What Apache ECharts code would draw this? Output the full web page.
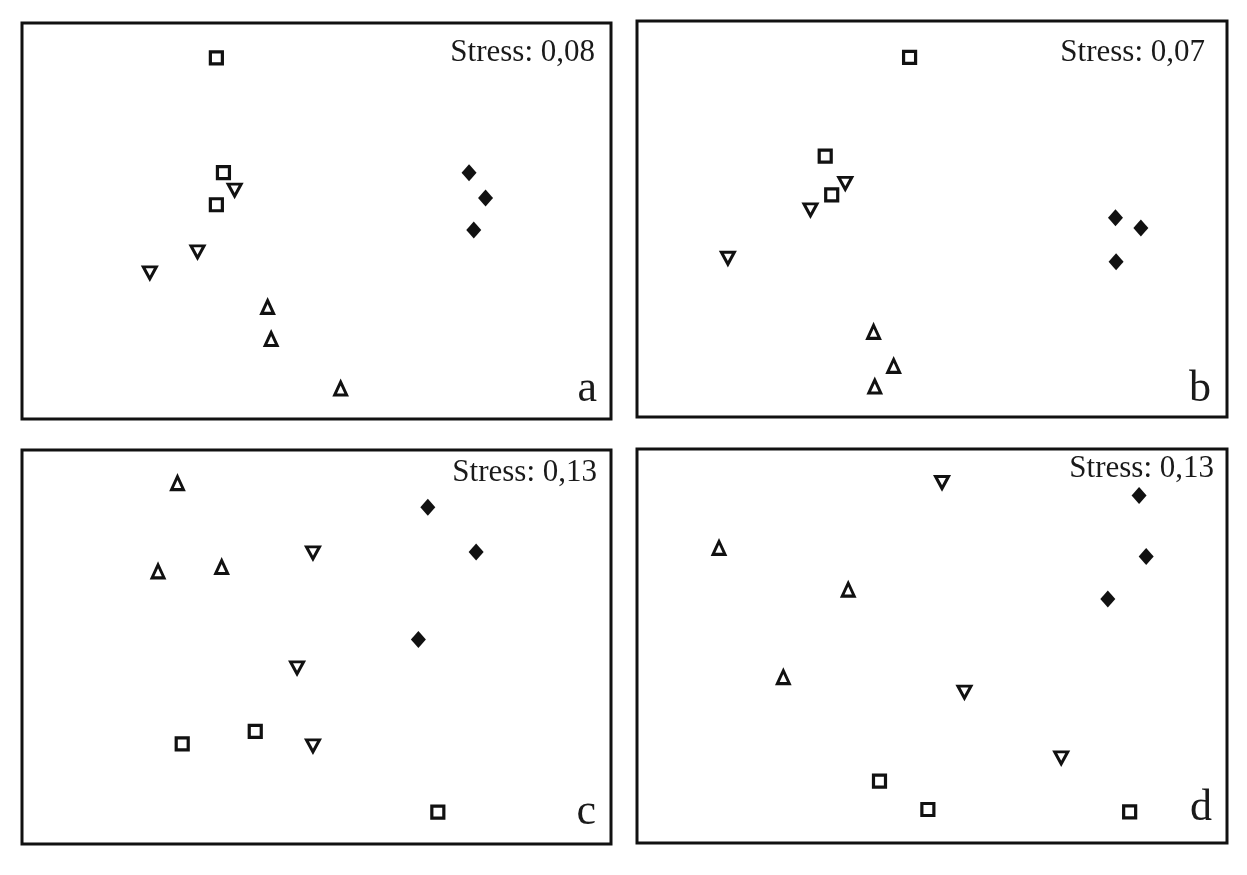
<!DOCTYPE html>
<html>
<head>
<meta charset="utf-8">
<script src="https://cdn.jsdelivr.net/npm/echarts@6/dist/echarts.min.js"></script>
<style>
html,body{margin:0;padding:0;background:#fff;}
#chart{width:1247px;height:875px;}
</style>
</head>
<body>
<div id="chart"></div>
<script>
// Ordination scores (arbitrary 0-100 units)
const panelLetters = ['a', 'b', 'c', 'd'];
const stressLabels = ['Stress: 0,08', 'Stress: 0,07', 'Stress: 0,13', 'Stress: 0,13'];

const aSquares   = [[33.0, 91.2], [34.2, 62.2], [33.0, 54.1]];
const aDownTri   = [[36.1, 57.8], [29.8, 42.2], [21.7, 36.9]];
const aUpTri     = [[41.7, 28.3], [42.3, 20.2], [54.1, 7.7]];
const aDiamonds  = [[75.9, 62.2], [78.7, 55.8], [76.7, 47.7]];

const bSquares   = [[46.2, 90.8], [31.9, 65.9], [33.0, 56.1]];
const bDownTri   = [[35.3, 59.0], [29.4, 52.3], [15.4, 40.1]];
const bUpTri     = [[40.1, 21.5], [43.5, 12.9], [40.3, 7.7]];
const bDiamonds  = [[81.1, 50.3], [85.4, 47.7], [81.2, 39.2]];

const cSquares   = [[27.2, 25.4], [39.6, 28.6], [70.6, 8.1]];
const cDownTri   = [[49.4, 73.9], [46.7, 44.7], [49.4, 24.9]];
const cUpTri     = [[26.4, 91.6], [23.1, 69.2], [33.9, 70.3]];
const cDiamonds  = [[68.9, 85.5], [77.1, 74.1], [67.3, 51.9]];

const dSquares   = [[41.1, 15.7], [49.3, 8.5], [83.5, 7.9]];
const dDownTri   = [[51.7, 91.5], [55.5, 38.3], [71.9, 21.6]];
const dUpTri     = [[13.9, 74.9], [35.8, 64.3], [24.8, 42.1]];
const dDiamonds  = [[85.1, 88.2], [86.3, 72.7], [79.8, 61.9]];

const panels = [
  {squares: aSquares, down: aDownTri, up: aUpTri, diamonds: aDiamonds},
  {squares: bSquares, down: bDownTri, up: bUpTri, diamonds: bDiamonds},
  {squares: cSquares, down: cDownTri, up: cUpTri, diamonds: cDiamonds},
  {squares: dSquares, down: dDownTri, up: dUpTri, diamonds: dDiamonds}
];

// layout
const grids = [
  {left: 22, top: 23, width: 589, height: 396},
  {left: 637, top: 21, width: 590, height: 396},
  {left: 22, top: 450, width: 589, height: 394},
  {left: 637, top: 449, width: 590, height: 394}
];
const stressPos = [[595, 53], [1205, 53], [597, 473], [1214, 469]];
const letterPos = [[597, 389], [1211, 389], [596, 812], [1212, 808]];

const ink = '#111';

const option = {
  animation: false,
  backgroundColor: '#fff',
  grid: grids.map(g => Object.assign({show: true, borderColor: ink, borderWidth: 3, backgroundColor: 'transparent'}, g)),
  xAxis: grids.map((g, i) => ({type: 'value', gridIndex: i, min: 0, max: 100, show: false})),
  yAxis: grids.map((g, i) => ({type: 'value', gridIndex: i, min: 0, max: 100, show: false})),
  series: [],
  graphic: []
};

panels.forEach((p, i) => {
  const base = {type: 'scatter', xAxisIndex: i, yAxisIndex: i, silent: true};
  option.series.push(Object.assign({}, base, {
    data: p.squares, symbol: 'rect', symbolSize: 12,
    itemStyle: {color: '#fff', borderColor: ink, borderWidth: 3.2, opacity: 1}
  }));
  option.series.push(Object.assign({}, base, {
    data: p.down, symbol: 'triangle', symbolSize: [13, 12], symbolRotate: 180,
    itemStyle: {color: '#fff', borderColor: ink, borderWidth: 3, opacity: 1}
  }));
  option.series.push(Object.assign({}, base, {
    data: p.up, symbol: 'triangle', symbolSize: [12, 13],
    itemStyle: {color: '#fff', borderColor: ink, borderWidth: 3, opacity: 1}
  }));
  option.series.push(Object.assign({}, base, {
    data: p.diamonds, symbol: 'diamond', symbolSize: [15, 17],
    itemStyle: {color: ink, opacity: 1}
  }));
  option.graphic.push({
    type: 'text', x: stressPos[i][0], y: stressPos[i][1],
    style: {text: stressLabels[i], fontFamily: 'Liberation Serif', fontSize: 31,
            fill: '#1a1a1a', align: 'right', verticalAlign: 'middle'}
  });
  option.graphic.push({
    type: 'text', x: letterPos[i][0], y: letterPos[i][1],
    style: {text: panelLetters[i], fontFamily: 'Liberation Serif', fontSize: 44,
            fill: '#1a1a1a', align: 'right', verticalAlign: 'middle'}
  });
});

const chart = echarts.init(document.getElementById('chart'), null, {renderer: 'canvas'});
chart.setOption(option);
</script>
</body>
</html>
